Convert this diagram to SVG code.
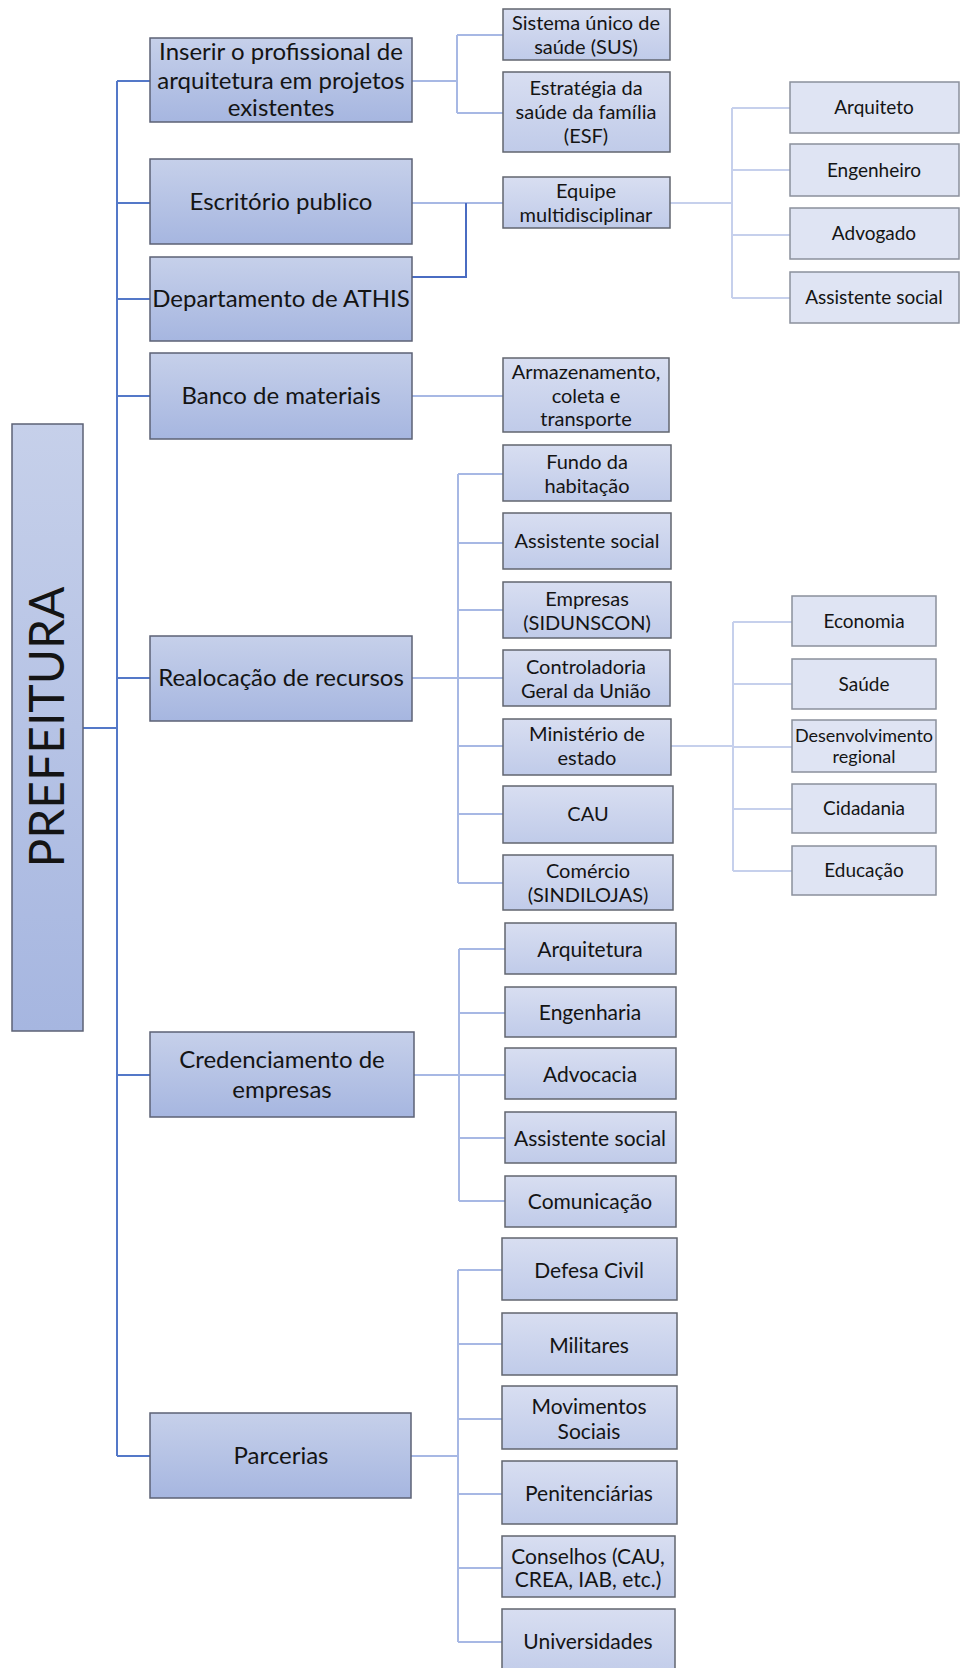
<svg xmlns="http://www.w3.org/2000/svg" width="960" height="1668" viewBox="0 0 960 1668">
<defs>
<linearGradient id="g1" x1="0" y1="0" x2="0" y2="1">
<stop offset="0" stop-color="#c6d0ea"/>
<stop offset="1" stop-color="#a6b6e0"/>
</linearGradient>
<linearGradient id="g2" x1="0" y1="0" x2="0" y2="1">
<stop offset="0" stop-color="#d8def1"/>
<stop offset="1" stop-color="#c0cbe9"/>
</linearGradient>
<style>
.l1{fill:url(#g1);stroke:#5c6275;stroke-width:1.5}
.l2{fill:url(#g2);stroke:#62666f;stroke-width:1.5}
.l3{fill:#dfe4f3;stroke:#8b909c;stroke-width:1.5}
text{font-family:Lato,"Liberation Sans",sans-serif;fill:#141414;text-anchor:middle;dominant-baseline:central}
.t1{font-size:24px}
.t2{font-size:20px}
.t2b{font-size:21px}
.t3{font-size:19px}
.tp{font-size:48px}
.c1{fill:none;stroke:#5478c8;stroke-width:2}
.c2{fill:none;stroke:#a7b8e4;stroke-width:2}
.c3{fill:none;stroke:#c6d0ec;stroke-width:2}
.c4{fill:none;stroke:#4a6cc2;stroke-width:2}
</style>
</defs>
<rect width="960" height="1668" fill="#ffffff"/>
<g id="connectors">
<path class="c1" d="M83,728H117M117,81V1456M117,81H150M117,203H150M117,299H150M117,396H150M117,678H150M117,1075H150M117,1456H150"/>
<path class="c2" d="M412,81H457M457,35V113M457,35H503M457,113H503"/>
<path class="c2" d="M412,203H503"/>
<path class="c4" d="M409,277H466V203"/>
<path class="c3" d="M670,203H732M732,108V298M732,108H790M732,170H790M732,235H790M732,298H790"/>
<path class="c2" d="M412,396H503"/>
<path class="c2" d="M412,678H458M458,474V883M458,474H503M458,543H503M458,610H503M458,678H503M458,746H503M458,814H503M458,883H503"/>
<path class="c3" d="M671,746H733M733,622V871M733,622H792M733,684H792M733,747H792M733,809H792M733,871H792"/>
<path class="c2" d="M414,1075H459M459,949V1201M459,949H505M459,1013H505M459,1075H505M459,1138H505M459,1201H505"/>
<path class="c2" d="M411,1456H458M458,1270V1642M458,1270H502M458,1344H502M458,1419H502M458,1494H502M458,1568H502M458,1642H502"/>
</g>
<g id="n_prefeitura"><rect class="l1" x="12" y="424" width="71" height="607"/><text class="tp" transform="translate(45,727) rotate(-90)">PREFEITURA</text></g>
<g id="n_inserir"><rect class="l1" x="150" y="38" width="262" height="84"/><text class="t1" x="281" y="50">Inserir o profissional de</text><text class="t1" x="281" y="79">arquitetura  em projetos</text><text class="t1" x="281" y="106">existentes</text></g>
<g id="n_escritorio"><rect class="l1" x="150" y="159" width="262" height="85"/><text class="t1" x="281" y="200">Escritório publico</text></g>
<g id="n_athis"><rect class="l1" x="150" y="257" width="262" height="84"/><text class="t1" x="281" y="297">Departamento  de ATHIS</text></g>
<g id="n_banco"><rect class="l1" x="150" y="353" width="262" height="86"/><text class="t1" x="281" y="394">Banco de materiais</text></g>
<g id="n_realoc"><rect class="l1" x="150" y="636" width="262" height="85"/><text class="t1" x="281" y="676">Realocação de recursos</text></g>
<g id="n_cred"><rect class="l1" x="150" y="1032" width="264" height="85"/><text class="t1" x="282" y="1058">Credenciamento de</text><text class="t1" x="282" y="1088">empresas</text></g>
<g id="n_parcerias"><rect class="l1" x="150" y="1413" width="261" height="85"/><text class="t1" x="281" y="1454">Parcerias</text></g>
<g id="n_sus"><rect class="l2" x="503" y="9" width="167" height="51"/><text class="t2" x="586" y="22">Sistema único de</text><text class="t2" x="586" y="46">saúde (SUS)</text></g>
<g id="n_esf"><rect class="l2" x="503" y="72" width="167" height="80"/><text class="t2" x="586" y="87">Estratégia da</text><text class="t2" x="586" y="111">saúde da família</text><text class="t2" x="586" y="135">(ESF)</text></g>
<g id="n_equipe"><rect class="l2" x="503" y="177" width="167" height="51"/><text class="t2" x="586" y="190">Equipe</text><text class="t2" x="586" y="214">multidisciplinar</text></g>
<g id="n_arquiteto"><rect class="l3" x="790" y="82" width="169" height="51"/><text class="t3" x="874" y="106">Arquiteto</text></g>
<g id="n_engenheiro"><rect class="l3" x="790" y="144" width="169" height="52"/><text class="t3" x="874" y="169">Engenheiro</text></g>
<g id="n_advogado"><rect class="l3" x="790" y="208" width="169" height="51"/><text class="t3" x="874" y="232">Advogado</text></g>
<g id="n_assist1"><rect class="l3" x="790" y="272" width="169" height="51"/><text class="t3" x="874" y="296">Assistente social</text></g>
<g id="n_armaz"><rect class="l2" x="503" y="358" width="166" height="74"/><text class="t2" x="586" y="371">Armazenamento,</text><text class="t2" x="586" y="395">coleta e</text><text class="t2" x="586" y="418">transporte</text></g>
<g id="n_fundo"><rect class="l2" x="503" y="445" width="168" height="56"/><text class="t2" x="587" y="461">Fundo da</text><text class="t2" x="587" y="485">habitação</text></g>
<g id="n_assist2"><rect class="l2" x="503" y="513" width="168" height="56"/><text class="t2" x="587" y="540">Assistente social</text></g>
<g id="n_empresas"><rect class="l2" x="503" y="582" width="168" height="56"/><text class="t2" x="587" y="598">Empresas</text><text class="t2" x="587" y="622">(SIDUNSCON)</text></g>
<g id="n_cgu"><rect class="l2" x="503" y="650" width="167" height="56"/><text class="t2" x="586" y="666">Controladoria</text><text class="t2" x="586" y="690">Geral da União</text></g>
<g id="n_ministerio"><rect class="l2" x="503" y="719" width="168" height="56"/><text class="t2" x="587" y="733">Ministério de</text><text class="t2" x="587" y="757">estado</text></g>
<g id="n_cau"><rect class="l2" x="503" y="786" width="170" height="57"/><text class="t2" x="588" y="813">CAU</text></g>
<g id="n_comercio"><rect class="l2" x="503" y="855" width="170" height="55"/><text class="t2" x="588" y="870">Comércio</text><text class="t2" x="588" y="894">(SINDILOJAS)</text></g>
<g id="n_economia"><rect class="l3" x="792" y="596" width="144" height="50"/><text class="t3" x="864" y="620">Economia</text></g>
<g id="n_saude"><rect class="l3" x="792" y="659" width="144" height="50"/><text class="t3" x="864" y="683">Saúde</text></g>
<g id="n_desenv"><rect class="l3" x="792" y="720" width="144" height="52"/><text class="t3" x="864" y="735" style="font-size:18px">Desenvolvimento</text><text class="t3" x="864" y="756" style="font-size:18px">regional</text></g>
<g id="n_cidadania"><rect class="l3" x="792" y="784" width="144" height="49"/><text class="t3" x="864" y="807">Cidadania</text></g>
<g id="n_educacao"><rect class="l3" x="792" y="846" width="144" height="49"/><text class="t3" x="864" y="869">Educação</text></g>
<g id="n_arquitetura"><rect class="l2" x="505" y="923" width="171" height="51"/><text class="t2b" x="590" y="948">Arquitetura</text></g>
<g id="n_engenharia"><rect class="l2" x="505" y="987" width="171" height="50"/><text class="t2b" x="590" y="1011">Engenharia</text></g>
<g id="n_advocacia"><rect class="l2" x="505" y="1048" width="171" height="51"/><text class="t2b" x="590" y="1073">Advocacia</text></g>
<g id="n_assist3"><rect class="l2" x="505" y="1112" width="171" height="51"/><text class="t2b" x="590" y="1137">Assistente social</text></g>
<g id="n_comunicacao"><rect class="l2" x="505" y="1176" width="171" height="51"/><text class="t2b" x="590" y="1200">Comunicação</text></g>
<g id="n_defesa"><rect class="l2" x="502" y="1238" width="175" height="62"/><text class="t2b" x="589" y="1269">Defesa Civil</text></g>
<g id="n_militares"><rect class="l2" x="502" y="1313" width="175" height="62"/><text class="t2b" x="589" y="1344">Militares</text></g>
<g id="n_movimentos"><rect class="l2" x="502" y="1386" width="175" height="63"/><text class="t2b" x="589" y="1405">Movimentos</text><text class="t2b" x="589" y="1430">Sociais</text></g>
<g id="n_penit"><rect class="l2" x="502" y="1461" width="175" height="63"/><text class="t2b" x="589" y="1492">Penitenciárias</text></g>
<g id="n_conselhos"><rect class="l2" x="502" y="1536" width="173" height="61"/><text class="t2b" x="588" y="1555">Conselhos (CAU,</text><text class="t2b" x="588" y="1578">CREA,  IAB, etc.)</text></g>
<g id="n_univ"><rect class="l2" x="502" y="1609" width="173" height="70"/><text class="t2b" x="588" y="1640">Universidades</text></g>
</svg>
